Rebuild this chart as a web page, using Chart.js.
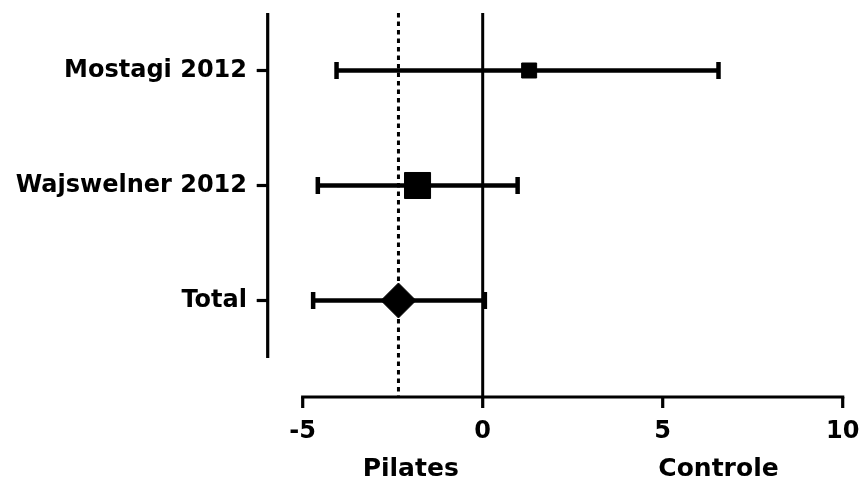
<!DOCTYPE html>
<html>
<head>
<meta charset="utf-8">
<script src="https://cdn.jsdelivr.net/npm/chart.js@4"></script>
<style>
  html, body { margin: 0; padding: 0; background: #fff; }
  #wrap { width: 859px; height: 482px; }
</style>
</head>
<body>
<div id="wrap"><canvas id="forest"></canvas></div>
<script>
// 研究名稱與效應值
const studies = ['Mostagi 2012', 'Wajswelner 2012', 'Total'];
const effect = [1.29, -1.81, -2.34];
const lower = [-4.06, -4.58, -4.71];
const upper = [6.55, 0.97, 0.06];
const xTicks = [-5, 0, 5, 10];
const sideLabels = ['Pilates', 'Controle'];
const sideLabelAt = [-2, 6.55];

const FONT = '"DejaVu Sans", "Liberation Sans", sans-serif';

// 軸線、零線與虛線
const axesPlugin = {
    id: 'forestAxes',
    beforeDatasetsDraw(chart) {
        const { ctx, chartArea, scales: { x } } = chart;
        const axisY = chartArea.bottom + 39;
        ctx.save();
        ctx.strokeStyle = '#000';
        ctx.lineWidth = 3;
        const x0 = x.getPixelForValue(0);
        ctx.beginPath();
        ctx.moveTo(x0, chartArea.top);
        ctx.lineTo(x0, axisY);
        ctx.stroke();

        const xp = x.getPixelForValue(effect[effect.length - 1]);
        ctx.setLineDash([4.5, 4]);
        ctx.beginPath();
        ctx.moveTo(xp, chartArea.top);
        ctx.lineTo(xp, axisY);
        ctx.stroke();
        ctx.restore();
    },
    afterDraw(chart) {
        const { ctx, chartArea, scales: { x, y } } = chart;
        const axisY = chartArea.bottom + 39;
        const axisX = chartArea.left - 35;
        ctx.save();
        ctx.strokeStyle = '#000';
        ctx.fillStyle = '#000';
        ctx.lineWidth = 3.2;

        // x 軸
        ctx.lineCap = 'square';
        ctx.beginPath();
        ctx.moveTo(x.getPixelForValue(xTicks[0]), axisY);
        ctx.lineTo(x.getPixelForValue(xTicks[xTicks.length - 1]), axisY);
        ctx.stroke();
        ctx.lineCap = 'butt';
        xTicks.forEach(v => {
            const px = x.getPixelForValue(v);
            ctx.beginPath();
            ctx.moveTo(px, axisY);
            ctx.lineTo(px, axisY + 11);
            ctx.stroke();
        });

        // y 軸
        ctx.beginPath();
        ctx.moveTo(axisX, y.getPixelForValue(-0.5));
        ctx.lineTo(axisX, y.getPixelForValue(studies.length - 0.5));
        ctx.stroke();
        studies.forEach((s, i) => {
            const py = y.getPixelForValue(i);
            ctx.beginPath();
            ctx.moveTo(axisX - 11, py);
            ctx.lineTo(axisX, py);
            ctx.stroke();
        });

        // Pilates / Controle
        ctx.font = 'bold 25px ' + FONT;
        ctx.textAlign = 'center';
        ctx.textBaseline = 'middle';
        sideLabels.forEach((t, i) => {
            ctx.fillText(t, x.getPixelForValue(sideLabelAt[i]), chartArea.bottom + 111);
        });
        ctx.restore();
    }
};

const barSets = studies.map((s, i) => ({
    label: s,
    data: [{ x: lower[i], y: i }, { x: upper[i], y: i }],
    showLine: true,
    borderColor: '#000',
    borderWidth: 4.5,
    pointStyle: 'line',
    pointRotation: 90,
    pointRadius: 8.5,
    pointBorderWidth: 4.5,
    pointBorderColor: '#000',
    order: 2
}));

const markerSet = {
    label: 'effect',
    data: effect.map((v, i) => ({ x: v, y: i })),
    pointStyle: ['rect', 'rect', 'rectRot'],
    pointRadius: [10.6, 18.4, 17.5],
    backgroundColor: '#000',
    borderColor: '#000',
    borderWidth: 1,
    order: 1
};

new Chart(document.getElementById('forest').getContext('2d'), {
    type: 'scatter',
    data: { datasets: [markerSet, ...barSets] },
    options: {
        responsive: true,
        maintainAspectRatio: false,
        animation: false,
        events: [],
        layout: { autoPadding: false, padding: { top: 13, right: 16.3, bottom: 0, left: 0 } },
        plugins: {
            legend: { display: false },
            tooltip: { enabled: false }
        },
        scales: {
            x: {
                type: 'linear',
                min: -5,
                max: 10,
                afterBuildTicks: s => { s.ticks = xTicks.map(v => ({ value: v })); },
                afterFit: s => { s.height = 124; s.paddingLeft = 0; s.paddingRight = 0; },
                grid: { display: false, drawTicks: false },
                border: { display: false },
                ticks: {
                    color: '#000',
                    padding: 59.6,
                    font: { family: FONT, size: 24, weight: 'bold' }
                }
            },
            y: {
                type: 'linear',
                reverse: true,
                min: -0.5,
                max: studies.length - 0.5,
                afterBuildTicks: s => { s.ticks = studies.map((_, i) => ({ value: i })); },
                afterFit: s => { s.width = 302.7; s.paddingTop = 0; s.paddingBottom = 0; },
                grid: { display: false, drawTicks: false },
                border: { display: false },
                ticks: {
                    color: '#000',
                    padding: 55.7,
                    font: { family: FONT, size: 24, weight: 'bold' },
                    callback: v => studies[v]
                }
            }
        }
    },
    plugins: [axesPlugin]
});
</script>
</body>
</html>
